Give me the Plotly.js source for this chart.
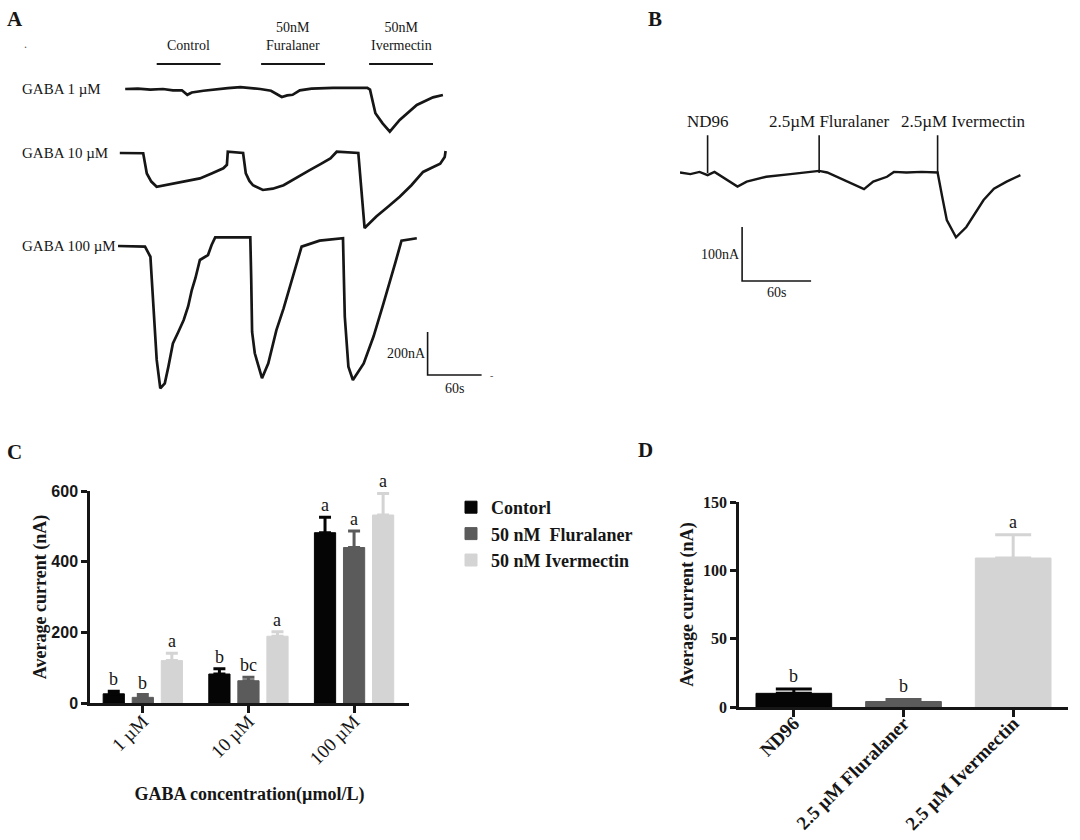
<!DOCTYPE html>
<html>
<head>
<meta charset="utf-8">
<script src="https://cdn.plot.ly/plotly-3.0.1.min.js"></script>
<style>html,body{margin:0;padding:0;background:#fff}#chart{width:1080px;height:840px}</style>
</head>
<body>
<div id="chart"></div>
<script>
// ================= DATA =================
// Panel A: representative current traces, time (s) and current (nA, relative to baseline)
const A1_T = [8, 22, 36, 50, 61, 71, 77, 82, 95, 110, 122, 136, 148, 158, 170, 177, 182, 188, 194, 202, 215, 239, 258, 277, 280, 286, 294, 302, 313, 332, 350, 361];
const A1_I = [0, 2, -3, 0, -6, -6, -27, -16, -8, 0, 4, 9, 5, 0, -8, -27, -37, -30, -27, -6, 2, 5, 4, 5, -3, -113, -160, -198, -144, -74, -39, -28];

const A2_T = [2, 28, 32, 37, 43, 52, 61, 76, 91, 104, 117, 121, 122, 139, 142, 146, 150, 161, 172, 184, 198, 213, 225, 236, 243, 267, 274, 280, 287, 300, 313, 326, 339, 348, 358, 363, 364];
const A2_I = [0, -1, -95, -133, -157, -150, -141, -132, -118, -95, -71, -55, 6, 0, -95, -130, -150, -172, -166, -150, -118, -80, -52, -25, 6, 0, -349, -326, -295, -250, -203, -150, -88, -70, -50, -19, 9];

const A3_T = [0, 30, 36, 39, 43, 47, 52, 56, 61, 67, 73, 78, 82, 86, 91, 100, 104, 108, 147, 148, 149, 152, 160, 167, 176, 184, 191, 198, 204, 224, 250, 251, 252, 256, 261, 273, 284, 295, 302, 308, 315, 332];
const A3_I = [0, -3, -50, -251, -530, -662, -639, -561, -453, -400, -344, -280, -205, -150, -65, -42, 5, 40, 40, -150, -400, -499, -615, -546, -391, -290, -189, -90, -3, 25, 36, -150, -329, -561, -623, -546, -420, -267, -170, -80, 25, 36];

const A_ROW_LABELS = ['GABA 1 µM', 'GABA 10 µM', 'GABA 100 µM'];
const A_BAR_LABELS = ['Control', '50nM<br>Furalaner', '50nM<br>Ivermectin'];
const A_BAR_START = [43, 159, 279];
const A_BAR_END = [114, 230, 350];

// Panel B trace
const B_T = [0, 9, 17, 24, 30, 41, 50, 58, 75, 96, 121, 128, 145, 160, 168, 180, 186, 197, 210, 224, 228, 232, 240, 249, 264, 273, 284, 296];
const B_I = [1, -2, 2, -4, 2, -13, -25, -16, -7, -2, 4, 1, -16, -30, -16, -7, 2, 1, 2, 1, -44, -87, -119, -100, -50, -29, -16, -4];
const B_EVENT_LABELS = ['ND96', '2.5µM Fluralaner', '2.5µM Ivermectin'];
const B_EVENT_T = [24, 121, 224];

// Panel C: average current (nA) by GABA concentration
const GABA_CATS = ['1 µM', '10 µM', '100 µM'];
const C_SERIES = ['Contorl', '50 nM\u00a0 Fluralaner', '50 nM Ivermectin'];
const C_CONTROL = [26, 82, 482];
const C_CONTROL_ERR = [7, 15, 44];
const C_CONTROL_LETTERS = ['b', 'b', 'a'];
const C_FLUR = [16, 63, 440];
const C_FLUR_ERR = [8, 10, 47];
const C_FLUR_LETTERS = ['b', 'bc', 'a'];
const C_IVER = [120, 189, 532];
const C_IVER_ERR = [21, 13, 61];
const C_IVER_LETTERS = ['a', 'a', 'a'];

// Panel D
const D_CATS = ['ND96', '2.5 µM Fluralaner', '2.5 µM Ivermectin'];
const D_VALUES = [10, 4, 109];
const D_ERR = [3.2, 1.5, 17];
const D_LETTERS = ['b', 'b', 'a'];

// ================= STYLE / LAYOUT =================
const SERIF = '"Liberation Serif","Times New Roman",Times,serif';
const SANS = '"Liberation Sans",Arial,Helvetica,sans-serif';
const INK = '#161616';
const COLORS = ['#050505', '#5b5b5b', '#d4d4d4'];
const W = 1080, H = 840;
const fx = p => p / W;
const fy = p => 1 - p / H;
const dom = (top, bottom) => [1 - bottom / H, 1 - top / H];

// scale of the recordings (pixels per unit)
const A_S = 0.9, A_N = 0.215;
const A_BASE = [89, 153, 246];
const A_RANGES = [[-250, 50], [-400, 50], [-700, 60]];
const A_YAX = ['y3', 'y4', 'y5'];
const rowDom = r => dom(A_BASE[r] - A_RANGES[r][1] * A_N, A_BASE[r] - A_RANGES[r][0] * A_N);
const A_LEFT = 118, A_RIGHT = 498;
const B_S = 1.15, B_N = 0.54, B_BASE = 173, B_RANGE = [-220, 80];
const B_LEFT = 680, B_RIGHT = 1040;
const SCALE_A = {t0: 344, i0: -600, dI: 200, dt: 60};
const SCALE_B = {t0: 54, i0: -200, dI: 100, dt: 60};

const traces = [];
const A_T = [A1_T, A2_T, A3_T], A_I = [A1_I, A2_I, A3_I];
for (let r = 0; r < 3; r++) {
  traces.push({type: 'scatter', mode: 'lines', x: A_T[r], y: A_I[r], xaxis: 'x3', yaxis: A_YAX[r],
    line: {color: INK, width: 2.7}, hoverinfo: 'skip', showlegend: false});
}
traces.push({type: 'scatter', mode: 'lines', x: B_T, y: B_I, xaxis: 'x4', yaxis: 'y6',
  line: {color: INK, width: 2.4}, hoverinfo: 'skip', showlegend: false});

const C_VALUES = [C_CONTROL, C_FLUR, C_IVER];
const C_ERRS = [C_CONTROL_ERR, C_FLUR_ERR, C_IVER_ERR];
const C_LETTERS = [C_CONTROL_LETTERS, C_FLUR_LETTERS, C_IVER_LETTERS];
C_SERIES.forEach((name, j) => {
  traces.push({type: 'bar', name: name, x: GABA_CATS, y: C_VALUES[j], xaxis: 'x', yaxis: 'y',
    marker: {color: COLORS[j], line: {color: COLORS[j], width: 1}},
    error_y: {type: 'data', symmetric: false, array: C_ERRS[j], arrayminus: C_ERRS[j].map(() => 0),
      color: COLORS[j], thickness: 3, width: 6},
    cliponaxis: false, hoverinfo: 'x+y'});
});
D_CATS.forEach((c, j) => {
  traces.push({type: 'bar', x: [c], y: [D_VALUES[j]], xaxis: 'x2', yaxis: 'y2', width: 0.69, offsetgroup: 'd',
    marker: {color: COLORS[j], line: {color: COLORS[j], width: 1}},
    error_y: {type: 'data', symmetric: false, array: [D_ERR[j]], arrayminus: [0], color: COLORS[j], thickness: 3, width: 18},
    cliponaxis: false, showlegend: false, hoverinfo: 'x+y'});
});

const BARGAP = 0.175;
const slot = (1 - BARGAP) / C_SERIES.length;

const titleFont = {family: SERIF, size: 18, weight: 'bold', color: INK};
const axBase = {showline: true, linecolor: INK, linewidth: 2.5, ticks: 'outside', tickwidth: 2.5, tickcolor: INK,
  showgrid: false, zeroline: false, fixedrange: true};

const shapes = [];
const ann = [];
const paperText = (t, x, y, size, color) => ann.push({xref: 'paper', yref: 'paper', x: fx(x), y: fy(y),
  xanchor: 'center', yanchor: 'middle', text: t, showarrow: false, font: {family: SERIF, size: size, color: color || INK}});
paperText('<b>A</b>', 15, 19, 21); paperText('<b>B</b>', 655, 19, 21);
paperText('<b>C</b>', 14, 452, 21); paperText('<b>D</b>', 645, 450, 21);
paperText('.', 25, 44, 12, '#555');
paperText('-', 491, 375, 10, '#555');

// Panel A decorations
A_BAR_LABELS.forEach((lab, k) => {
  shapes.push({type: 'line', xref: 'x3', yref: 'paper', x0: A_BAR_START[k], x1: A_BAR_END[k], y0: fy(64), y1: fy(64),
    line: {color: INK, width: 2}});
  ann.push({xref: 'x3', yref: 'paper', x: (A_BAR_START[k] + A_BAR_END[k]) / 2, y: fy(55), xanchor: 'center', yanchor: 'bottom',
    text: lab, showarrow: false, font: {family: SERIF, size: 14, color: INK}});
});
A_ROW_LABELS.forEach((lab, r) => {
  ann.push({xref: 'paper', yref: A_YAX[r], x: fx(20), xanchor: 'left', y: 0, yanchor: 'middle', text: lab, showarrow: false,
    font: {family: SERIF, size: 15, color: INK}});
});
shapes.push({type: 'path', xref: 'x3', yref: 'y5',
  path: `M ${SCALE_A.t0},${SCALE_A.i0 + SCALE_A.dI} L ${SCALE_A.t0},${SCALE_A.i0} L ${SCALE_A.t0 + SCALE_A.dt},${SCALE_A.i0}`,
  line: {color: INK, width: 1.6}});
ann.push({xref: 'x3', yref: 'y5', x: SCALE_A.t0, y: SCALE_A.i0 + SCALE_A.dI / 2, xanchor: 'right', yanchor: 'middle', text: '200nA',
  showarrow: false, font: {family: SERIF, size: 14, color: INK}});
ann.push({xref: 'x3', yref: 'y5', x: SCALE_A.t0 + SCALE_A.dt / 2, y: SCALE_A.i0, xanchor: 'center', yanchor: 'top', yshift: -4, text: '60s',
  showarrow: false, font: {family: SERIF, size: 14, color: INK}});

// Panel B decorations
const B_SHIFT = [0, 10, 26];
B_EVENT_LABELS.forEach((lab, k) => {
  shapes.push({type: 'line', xref: 'x4', yref: 'y6', x0: B_EVENT_T[k], x1: B_EVENT_T[k], y0: 0, y1: 70,
    line: {color: INK, width: 1.6}});
  ann.push({xref: 'x4', yref: 'y6', x: B_EVENT_T[k], y: 70, xanchor: 'center', yanchor: 'bottom', yshift: 2, xshift: B_SHIFT[k], text: lab,
    showarrow: false, font: {family: SERIF, size: 17, color: INK}});
});
shapes.push({type: 'path', xref: 'x4', yref: 'y6',
  path: `M ${SCALE_B.t0},${SCALE_B.i0 + SCALE_B.dI} L ${SCALE_B.t0},${SCALE_B.i0} L ${SCALE_B.t0 + SCALE_B.dt},${SCALE_B.i0}`,
  line: {color: INK, width: 1.6}});
ann.push({xref: 'x4', yref: 'y6', x: SCALE_B.t0, y: SCALE_B.i0 + SCALE_B.dI / 2, xanchor: 'right', yanchor: 'middle', text: '100nA',
  showarrow: false, font: {family: SERIF, size: 14, color: INK}});
ann.push({xref: 'x4', yref: 'y6', x: SCALE_B.t0 + SCALE_B.dt / 2, y: SCALE_B.i0, xanchor: 'center', yanchor: 'top', yshift: -2, text: '60s',
  showarrow: false, font: {family: SERIF, size: 14, color: INK}});

// Significance letters
C_LETTERS.forEach((letters, j) => letters.forEach((txt, i) => {
  ann.push({xref: 'x', yref: 'y', x: i + (j - 1) * slot, y: C_VALUES[j][i] + C_ERRS[j][i], xanchor: 'center', yanchor: 'bottom',
    text: txt, showarrow: false, font: {family: SERIF, size: 18, color: INK}});
}));
D_LETTERS.forEach((txt, i) => {
  ann.push({xref: 'x2', yref: 'y2', x: D_CATS[i], y: D_VALUES[i] + D_ERR[i], xanchor: 'center', yanchor: 'bottom', yshift: 1,
    text: txt, showarrow: false, font: {family: SERIF, size: 18, color: INK}});
});

const layout = {
  width: W, height: H, margin: {l: 0, r: 0, t: 0, b: 0},
  paper_bgcolor: '#ffffff', plot_bgcolor: 'rgba(0,0,0,0)',
  font: {family: SERIF, color: INK},
  barmode: 'group', bargap: BARGAP, bargroupgap: 0.27,
  showlegend: true,
  legend: {x: fx(451), y: fy(489), xanchor: 'left', yanchor: 'top', bgcolor: 'rgba(0,0,0,0)',
    font: {family: SERIF, size: 18, weight: 'bold', color: INK}, tracegroupgap: 0},
  xaxis: Object.assign({}, axBase, {domain: [fx(90), fx(409)], anchor: 'y', type: 'category', range: [-0.5, 2.52],
    ticklen: 7, tickangle: -45, ticklabelstandoff: -10, tickfont: {family: SERIF, size: 19, color: INK},
    title: {text: 'GABA concentration(µmol/L)', font: titleFont, standoff: 20}}),
  yaxis: Object.assign({}, axBase, {domain: dom(491, 703), anchor: 'x', range: [0, 600], tickvals: [0, 200, 400, 600],
    ticklen: 6, tickfont: {family: SANS, size: 16, weight: 'bold', color: INK},
    title: {text: 'Average current (nA)', font: titleFont, standoff: 1}}),
  xaxis2: Object.assign({}, axBase, {domain: [fx(739), fx(1068)], anchor: 'y2', type: 'category', range: [-0.5, 2.5],
    ticklen: 7, tickangle: -45, ticklabelstandoff: -12, tickfont: {family: SERIF, size: 19, weight: 'bold', color: INK}}),
  yaxis2: Object.assign({}, axBase, {domain: dom(502, 707), anchor: 'x2', range: [0, 150], tickvals: [0, 50, 100, 150],
    ticklen: 6, tickfont: {family: SERIF, size: 16, weight: 'bold', color: INK},
    title: {text: 'Average current (nA)', font: titleFont, standoff: 5}}),
  xaxis3: {domain: [fx(A_LEFT), fx(A_RIGHT)], range: [0, (A_RIGHT - A_LEFT) / A_S], visible: false, anchor: 'y3', fixedrange: true},
  yaxis3: {domain: rowDom(0), range: A_RANGES[0], visible: false, anchor: 'x3', fixedrange: true},
  yaxis4: {domain: rowDom(1), range: A_RANGES[1], visible: false, anchor: 'x3', fixedrange: true},
  yaxis5: {domain: rowDom(2), range: A_RANGES[2], visible: false, anchor: 'x3', fixedrange: true},
  xaxis4: {domain: [fx(B_LEFT), fx(B_RIGHT)], range: [0, (B_RIGHT - B_LEFT) / B_S], visible: false, anchor: 'y6', fixedrange: true},
  yaxis6: {domain: dom(B_BASE - B_RANGE[1] * B_N, B_BASE - B_RANGE[0] * B_N), range: B_RANGE, visible: false, anchor: 'x4', fixedrange: true},
  shapes: shapes,
  annotations: ann
};

Plotly.newPlot('chart', traces, layout, {displayModeBar: false, responsive: false});
</script>
</body>
</html>
